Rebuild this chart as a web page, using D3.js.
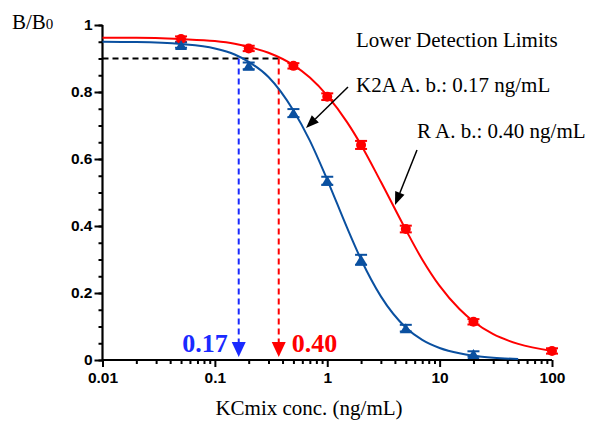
<!DOCTYPE html>
<html><head><meta charset="utf-8">
<script src="https://cdn.jsdelivr.net/npm/d3@7"></script>
<style>body{margin:0;background:#fff}svg{display:block}</style>
</head><body>
<svg id="c" width="591" height="421"></svg>
<script>
// measured points
const concPts = [0.05, 0.2, 0.5, 1, 2, 5, 20, 100];
const redPts  = [0.958, 0.930, 0.878, 0.786, 0.642, 0.391, 0.114, 0.027];
const redErr  = [0.008, 0.008, 0.008, 0.010, 0.012, 0.010, 0.008, 0.008];
const bluePts = [0.940, 0.878, 0.737, 0.535, 0.299, 0.095, 0.018];
const blueErr = [0.008, 0.010, 0.012, 0.012, 0.015, 0.010, 0.008];
// fitted curves
const curveConc = [0.01,0.02,0.05,0.1,0.15,0.2,0.3,0.5,0.7,1,1.5,2,3,5,7,10,15,20,30,50,100];
const redCurve  = [0.962,0.962,0.958,0.952,0.944,0.935,0.917,0.880,0.843,0.789,0.710,0.642,0.532,0.389,0.300,0.221,0.152,0.115,0.077,0.048,0.027];
const blueCurve = [0.950,0.949,0.943,0.930,0.912,0.890,0.845,0.745,0.655,0.538,0.395,0.300,0.190,0.097,0.060,0.036,0.020,0.013,0.007,0.003];
// detection limits
const lodLevel = 0.9;
const lodConc = [0.163, 0.37];
const lodLabels = ["0.17", "0.40"];
const xTicks = [0.01, 0.1, 1, 10, 100];
const xTickLabels = ["0.01", "0.1", "1", "10", "100"];
const yTicks = [0, 0.2, 0.4, 0.6, 0.8, 1];
const yTickLabels = ["0", "0.2", "0.4", "0.6", "0.8", "1"];

const RED = "#ff0000", BLUE = "#0a50a0", BLUE2 = "#1a2aff";
const svg = d3.select("#c");
const x = d3.scaleLog().domain([0.01, 100]).range([102.5, 552]);
const y = d3.scaleLinear().domain([0, 1]).range([360, 25]);

// axes
const minorX = [];
for (let d = 0.01; d < 100; d *= 10) for (let k = 2; k <= 9; k++) minorX.push(d * k);
const minorY = d3.range(0, 1.001, 0.05).map(v => +v.toFixed(2));

const gx = svg.append("g").attr("transform", "translate(0,360)");
gx.call(d3.axisBottom(x).tickValues(minorX).tickSize(4).tickFormat(""));
gx.call(g => g.append("g").call(d3.axisBottom(x).tickValues(xTicks).tickSize(7).tickFormat((d, i) => xTickLabels[i])));
gx.selectAll(".domain").remove();
gx.selectAll("line").attr("stroke", "#000").attr("stroke-width", 2);
gx.selectAll("text").attr("font-family", "Liberation Sans, Arial, sans-serif").attr("font-weight", "bold")
  .attr("font-size", 15.5).attr("fill", "#000").attr("dy", "0.95em").attr("y", 8);

const gy = svg.append("g").attr("transform", "translate(102.5,0)");
gy.call(d3.axisLeft(y).tickValues(minorY).tickSize(4).tickFormat(""));
gy.call(g => g.append("g").call(d3.axisLeft(y).tickValues(yTicks).tickSize(8).tickFormat((d, i) => yTickLabels[i])));
gy.selectAll(".domain").remove();
gy.selectAll("line").attr("stroke", "#000").attr("stroke-width", 2);
gy.selectAll("text").attr("font-family", "Liberation Sans, Arial, sans-serif").attr("font-weight", "bold")
  .attr("font-size", 15.5).attr("fill", "#000").attr("x", -10);

svg.append("line").attr("x1", x(0.01)).attr("x2", x(100)).attr("y1", y(0)).attr("y2", y(0)).attr("stroke", "#000").attr("stroke-width", 2.2);
svg.append("line").attr("x1", x(0.01)).attr("x2", x(0.01)).attr("y1", y(0) + 1).attr("y2", y(1)).attr("stroke", "#000").attr("stroke-width", 2.2);

// LOD dashed lines
svg.append("line").attr("x1", x(0.01)).attr("x2", x(lodConc[1])).attr("y1", y(lodLevel)).attr("y2", y(lodLevel))
  .attr("stroke", "#000").attr("stroke-width", 2).attr("stroke-dasharray", "6,4");
const lodColors = [BLUE2, RED];
lodConc.forEach((c, i) => {
  const px = x(c);
  svg.append("line").attr("x1", px).attr("x2", px).attr("y1", y(lodLevel)).attr("y2", y(0) - 16)
    .attr("stroke", lodColors[i]).attr("stroke-width", 2).attr("stroke-dasharray", "6,4");
  svg.append("path").attr("d", `M${px - 7},${y(0) - 18}L${px + 7},${y(0) - 18}L${px},${y(0) - 3}Z`).attr("fill", lodColors[i]);
});
svg.append("text").attr("x", x(lodConc[0]) - 11).attr("y", 352).attr("text-anchor", "end")
  .attr("font-family", "Liberation Serif, Times New Roman, serif").attr("font-weight", "bold").attr("font-size", 26)
  .attr("fill", BLUE2).text(lodLabels[0]);
svg.append("text").attr("x", x(lodConc[1]) + 13).attr("y", 352).attr("text-anchor", "start")
  .attr("font-family", "Liberation Serif, Times New Roman, serif").attr("font-weight", "bold").attr("font-size", 26)
  .attr("fill", RED).text(lodLabels[1]);

// curves
const line = d3.line().x(d => x(d[0])).y(d => y(d[1])).curve(d3.curveMonotoneX);
svg.append("path").attr("d", line(blueCurve.map((v, i) => [curveConc[i], v]))).attr("fill", "none").attr("stroke", BLUE).attr("stroke-width", 2);
svg.append("path").attr("d", line(redCurve.map((v, i) => [curveConc[i], v]))).attr("fill", "none").attr("stroke", RED).attr("stroke-width", 2);

// error bars + markers
function errBars(vals, errs, col) {
  vals.forEach((v, i) => {
    const px = x(concPts[i]);
    const g = svg.append("g").attr("stroke", col).attr("stroke-width", 2);
    g.append("line").attr("x1", px).attr("x2", px).attr("y1", y(v - errs[i])).attr("y2", y(v + errs[i]));
    g.append("line").attr("x1", px - 6).attr("x2", px + 6).attr("y1", y(v - errs[i])).attr("y2", y(v - errs[i]));
    g.append("line").attr("x1", px - 6).attr("x2", px + 6).attr("y1", y(v + errs[i])).attr("y2", y(v + errs[i]));
  });
}
errBars(redPts, redErr, RED);
errBars(bluePts, blueErr, BLUE);
svg.selectAll(".rm").data(redPts).enter().append("circle").attr("class", "rm")
  .attr("cx", (d, i) => x(concPts[i])).attr("cy", d => y(d)).attr("r", 5).attr("fill", RED);
svg.selectAll(".bm").data(bluePts).enter().append("path").attr("class", "bm")
  .attr("d", (d, i) => { const px = x(concPts[i]), py = y(d); return `M${px - 6},${py + 5}L${px + 6},${py + 5}L${px},${py - 5}Z`; })
  .attr("fill", BLUE);

// annotations
const serif = "Liberation Serif, Times New Roman, serif";
svg.append("text").attr("x", 356).attr("y", 47).attr("font-family", serif).attr("font-size", 21).text("Lower Detection Limits");
svg.append("text").attr("x", 356).attr("y", 92).attr("font-family", serif).attr("font-size", 21).text("K2A A. b.: 0.17 ng/mL");
svg.append("text").attr("x", 417).attr("y", 138).attr("font-family", serif).attr("font-size", 21).text("R A. b.: 0.40 ng/mL");

function arrow(x1, y1, x2, y2) {
  const a = Math.atan2(y2 - y1, x2 - x1), L = 13, W = 5;
  const bx = x2 - L * Math.cos(a), by = y2 - L * Math.sin(a);
  svg.append("line").attr("x1", x1).attr("y1", y1).attr("x2", bx).attr("y2", by).attr("stroke", "#000").attr("stroke-width", 1.5);
  svg.append("path").attr("d", `M${x2},${y2}L${bx - W * Math.sin(a)},${by + W * Math.cos(a)}L${bx + W * Math.sin(a)},${by - W * Math.cos(a)}Z`).attr("fill", "#000");
}
arrow(348, 87, 306, 128);
arrow(417, 150, 395, 205);

// axis titles
const t = svg.append("text").attr("x", 12).attr("y", 29).attr("font-family", serif).attr("font-size", 21);
t.append("tspan").text("B/B");
t.append("tspan").attr("font-size", 15).text("0");
svg.append("text").attr("x", 309).attr("y", 415).attr("text-anchor", "middle").attr("font-family", serif).attr("font-size", 21).text("KCmix conc. (ng/mL)");
</script>
</body></html>
